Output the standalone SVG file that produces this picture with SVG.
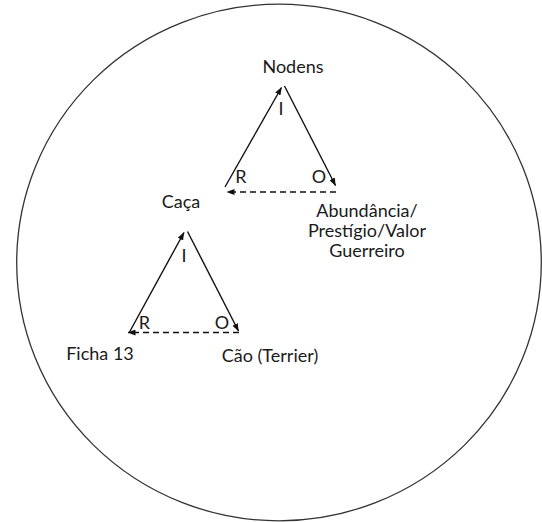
<svg xmlns="http://www.w3.org/2000/svg" width="542" height="522" viewBox="0 0 542 522">
  <style>
    .lbl { font-family: Lato, "Liberation Sans", sans-serif; font-size: 18px; fill: #1a1a1a; text-anchor: middle; }
    .edge { stroke: #111; stroke-width: 1.4; fill: none; marker-end: url(#arrow); }
    .dash { stroke-dasharray: 6 4; }
  </style>
  <defs>
    <marker id="arrow" markerUnits="userSpaceOnUse" markerWidth="8" markerHeight="6" refX="7.5" refY="3" orient="auto">
      <path d="M0,0 L8,3 L0,6 z" fill="#111"/>
    </marker>
  </defs>
  <rect width="542" height="522" fill="#fff"/>
  <!-- outer boundary -->
  <ellipse id="boundary" cx="279" cy="262.5" rx="262.3" ry="258.3" fill="none" stroke="#333" stroke-width="1.3"/>

  <g id="nodens"><text class="lbl" x="293" y="73">Nodens</text></g>
  <g id="abundancia">
    <text class="lbl" x="367" y="217">Abundância/</text>
    <text class="lbl" x="367" y="237">Prestígio/Valor</text>
    <text class="lbl" x="367" y="257">Guerreiro</text>
  </g>
  <g id="caca"><text class="lbl" x="181" y="208">Caça</text></g>
  <g id="ficha13"><text class="lbl" x="100" y="360">Ficha 13</text></g>
  <g id="cao"><text class="lbl" x="270" y="362">Cão (Terrier)</text></g>

  <g id="connectors">
    <!-- upper triangle -->
    <line class="edge" x1="225" y1="187" x2="281.5" y2="87.5"/>
    <line class="edge" x1="284.5" y1="86" x2="335.5" y2="185.5"/>
    <line class="edge dash" x1="336" y1="192" x2="227" y2="192"/>
    <text class="lbl" x="281" y="115">I</text>
    <text class="lbl" x="241" y="183">R</text>
    <text class="lbl" x="319" y="183">O</text>
    <!-- lower triangle -->
    <line class="edge" x1="129" y1="333" x2="184" y2="232.5"/>
    <line class="edge" x1="187.5" y1="231.5" x2="238.5" y2="331"/>
    <line class="edge dash" x1="239" y1="332.5" x2="128" y2="332.5"/>
    <text class="lbl" x="184" y="262">I</text>
    <text class="lbl" x="144.5" y="329">R</text>
    <text class="lbl" x="222" y="329">O</text>
  </g>
</svg>
